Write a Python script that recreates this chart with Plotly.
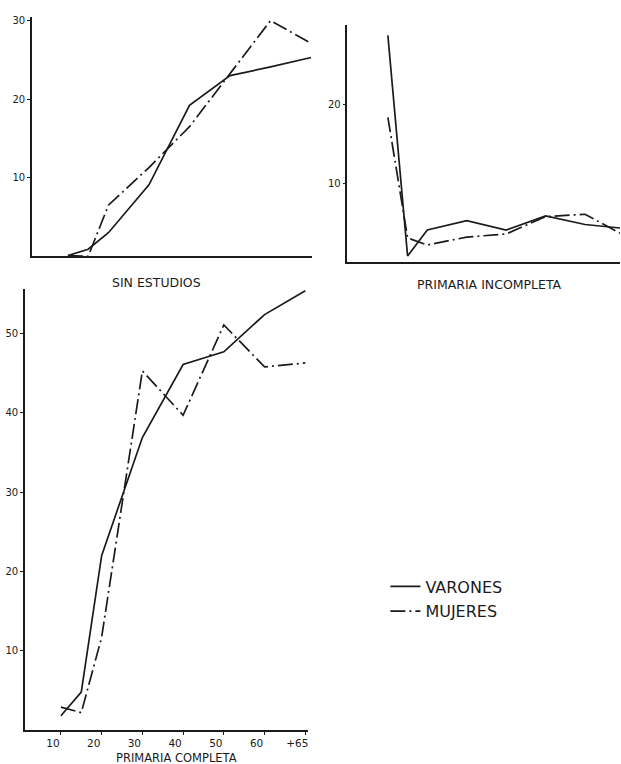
import plotly.graph_objects as go

W, H = 621, 764

# ---- data (percent by age group) ----
ages = [10, 15, 20, 30, 40, 50, 60, 70]
age_tickvals = [10, 20, 30, 40, 50, 60, 70]
age_ticktext = ["10", "20", "30", "40", "50", "60", "+65"]

sin_varones = [0.1, 0.9, 3.0, 9.1, 19.2, 23.0, 24.1, 25.3]
sin_mujeres = [0.1, 0.0, 6.5, 11.3, 16.5, 23.2, 30.0, 27.1]

inc_varones = [28.8, 0.8, 4.1, 5.3, 4.1, 5.9, 4.8, 4.3]
inc_mujeres = [18.4, 3.1, 2.2, 3.2, 3.6, 5.8, 6.1, 3.4]

com_varones = [1.8, 4.8, 22.0, 36.9, 46.1, 47.7, 52.4, 55.4]
com_mujeres = [2.9, 2.2, 11.7, 45.3, 39.7, 51.1, 45.8, 46.3]

titles = ["SIN ESTUDIOS", "PRIMARIA INCOMPLETA", "PRIMARIA COMPLETA"]
series_names = ["VARONES", "MUJERES"]

# ---- layout helpers (pixel geometry -> paper / axis ranges) ----
def xdom(p0, p1):
    return [p0 / W, p1 / W]

def ydom(top, bottom):
    return [1 - bottom / H, 1 - top / H]

def xrange_(p0, p1, ref_v, ref_p, scale):
    return [ref_v + (p0 - ref_p) / scale, ref_v + (p1 - ref_p) / scale]

INK = "#1b1b1b"
FONT = "DejaVu Sans"
DASHDOT = "15px,4px,2px,4px"

fig = go.Figure()

panels = [
    ("x", "y", sin_varones, sin_mujeres),
    ("x2", "y2", inc_varones, inc_mujeres),
    ("x3", "y3", com_varones, com_mujeres),
]
for i, (xa, ya, v, m) in enumerate(panels):
    fig.add_trace(go.Scatter(
        x=ages, y=v, mode="lines", xaxis=xa, yaxis=ya,
        name=series_names[0], legendgroup="v", showlegend=(i == 0),
        line=dict(color=INK, width=1.7)))
    fig.add_trace(go.Scatter(
        x=ages, y=m, mode="lines", xaxis=xa, yaxis=ya,
        name=series_names[1], legendgroup="m", showlegend=(i == 0),
        line=dict(color=INK, width=1.7, dash=DASHDOT)))

axis_common = dict(showline=True, linecolor=INK, linewidth=1.5, showgrid=False,
                   zeroline=False, mirror=False)
tickfont = dict(family=FONT, size=10, color=INK)

fig.update_layout(
    width=W, height=H,
    margin=dict(l=0, r=0, t=0, b=0),
    paper_bgcolor="white", plot_bgcolor="white",
    font=dict(family=FONT, color=INK),
    # panel 1: SIN ESTUDIOS
    xaxis=dict(domain=xdom(32, 313), range=xrange_(32, 313, 10, 68, 4.06),
               showticklabels=False, ticks="", anchor="y", **axis_common),
    yaxis=dict(domain=ydom(15, 255), range=[0, 240 / 7.88], anchor="x",
               tickvals=[10, 20, 30], ticks="outside", ticklen=3, tickwidth=1,
               tickcolor=INK, tickfont=tickfont, **axis_common),
    # panel 2: PRIMARIA INCOMPLETA
    xaxis2=dict(domain=xdom(348, 621), range=xrange_(348, 621, 10, 388.5, 3.95),
                showticklabels=False, ticks="", anchor="y2", **axis_common),
    yaxis2=dict(domain=ydom(23, 261), range=[0, 238 / 7.9], anchor="x2",
                tickvals=[10, 20], ticks="outside", ticklen=3, tickwidth=1,
                tickcolor=INK, tickfont=tickfont, **axis_common),
    # panel 3: PRIMARIA COMPLETA
    xaxis3=dict(domain=xdom(25, 308), range=xrange_(25, 308, 10, 61, 4.08),
                tickvals=age_tickvals, ticktext=age_ticktext, ticks="outside",
                ticklen=3, tickwidth=1, tickcolor=INK,
                tickfont=dict(family=FONT, size=10.5, color=INK),
                ticklabelshift=-8, ticklabelstandoff=0, anchor="y3", **axis_common),
    yaxis3=dict(domain=ydom(288, 730), range=[0, 442 / 7.95], anchor="x3",
                tickvals=[10, 20, 30, 40, 50], ticks="outside", ticklen=3, tickwidth=1,
                tickcolor=INK, tickfont=tickfont, **axis_common),
    legend=dict(x=386 / W, y=1 - 569 / H, xanchor="left", yanchor="top",
                font=dict(family=FONT, size=16, color=INK),
                bgcolor="rgba(0,0,0,0)", borderwidth=0, tracegroupgap=1,
                itemwidth=30),
    showlegend=True,
)

title_pos = [(157, 281, 12.5), (490, 283, 12.5), (177, 757.5, 11.5)]
for t, (px, py, fs) in zip(titles, title_pos):
    fig.add_annotation(text=t, x=px / W, y=1 - py / H, xref="paper", yref="paper",
                       xanchor="center", yanchor="middle", showarrow=False,
                       borderpad=0,
                       font=dict(family=FONT, size=fs, color=INK))

fig.write_html("out.html")
